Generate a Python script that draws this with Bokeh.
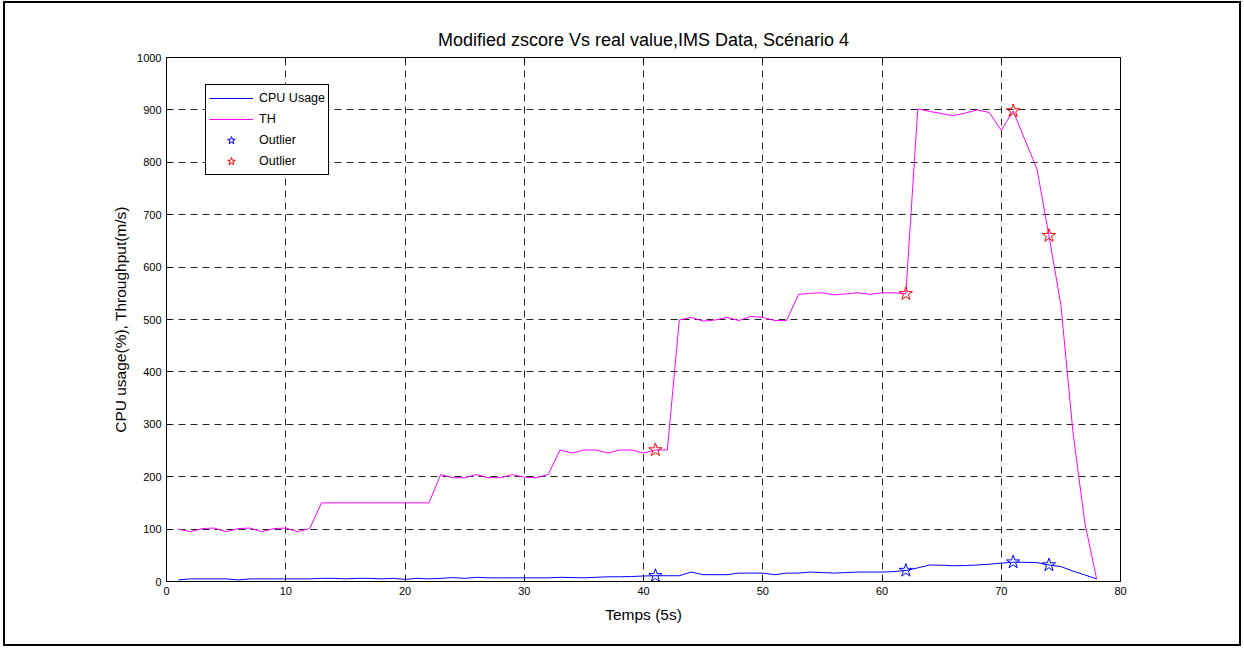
from bokeh.plotting import figure
from bokeh.layouts import column
from bokeh.models import (LinearAxis, FixedTicker, Legend, LegendItem, ColumnDataSource, Range1d)
from bokeh.embed import file_html
from bokeh.resources import INLINE

# ---- data ----
x_vals = list(range(1, 79))
cpu_usage = [3, 5, 5, 5, 5, 3, 5, 5, 5, 5, 5, 5, 6, 6, 5, 6, 6, 5, 6, 4,
             6, 5, 6, 7.5, 6, 8, 7, 7, 7, 7, 7, 7, 8, 7.5, 7, 8, 9, 9, 9.5, 10.5,
             11, 11, 11, 18, 13, 13, 13, 16, 16, 16, 13, 16, 16, 18, 17, 16, 17, 18, 18, 18,
             19, 21, 26, 31.5, 31, 30, 30.5, 31.5, 33, 35, 37, 36.5, 36, 31.5, 28.5, 20, 12.5, 5]
th_values = [100, 95, 101, 102, 95, 101, 102, 95, 101, 102, 95, 101,
             150, 150, 150, 150, 150, 150, 150, 150, 150, 150,
             204, 198, 198, 204, 198, 198, 204, 199, 198, 204,
             251, 245, 251, 251, 245, 251, 251, 245, 251, 251,
             499, 504, 497, 499, 504, 498, 506, 504, 498, 498,
             548, 550, 551, 547, 549, 551, 548, 551, 551, 549,
             902, 897, 893, 889, 894, 900, 895, 861, 898, 842, 787, 660, 528, 288, 113, 5]
outlier_x = [41, 62, 71, 74]
outlier_cpu = [cpu_usage[x_vals.index(v)] for v in outlier_x]
outlier_th = [th_values[x_vals.index(v)] for v in outlier_x]

x_ticks = [0, 10, 20, 30, 40, 50, 60, 70, 80]
y_ticks = [0, 100, 200, 300, 400, 500, 600, 700, 800, 900, 1000]

title_text = "Modified zscore Vs real value,IMS Data, Scénario 4"
x_label = "Temps (5s)"
y_label = "CPU usage(%), Throughput(m/s)"

FONT = "Liberation Sans"

# figure sits inside a bordered wrapper (offset 5px left, 3px top)
p = figure(width=1234, height=641, output_backend="svg", toolbar_location=None,
           x_range=Range1d(0, 80), y_range=Range1d(0, 1000),
           min_border_left=161, min_border_right=119, min_border_top=54, min_border_bottom=63,
           title=title_text)
p.background_fill_color = "white"
p.border_fill_color = "white"
p.outline_line_color = None

p.title.text_font = FONT
p.title.text_font_size = "18px"
p.title.text_font_style = "normal"
p.title.text_color = "black"
p.title.align = "center"
p.title.standoff = 15

for ax in (p.xaxis[0], p.yaxis[0]):
    ax.major_label_text_font = FONT
    ax.major_label_text_font_size = "11px"
    ax.major_label_text_color = "black"
    ax.axis_label_text_font = FONT
    ax.axis_label_text_font_size = "15.5px"
    ax.axis_label_text_font_style = "normal"
    ax.axis_label_text_color = "black"
    ax.major_tick_in = 5
    ax.major_tick_out = 0
    ax.minor_tick_line_color = None
    ax.axis_line_color = "black"
    ax.major_tick_line_color = "black"
    ax.major_label_standoff = 5

p.xaxis[0].axis_label_standoff = 8
p.yaxis[0].axis_label_standoff = 5
p.xaxis[0].ticker = FixedTicker(ticks=x_ticks)
p.yaxis[0].ticker = FixedTicker(ticks=y_ticks)
p.xaxis[0].axis_label = x_label
p.yaxis[0].axis_label = y_label

top_ax = LinearAxis(ticker=FixedTicker(ticks=x_ticks), major_tick_in=5, major_tick_out=0,
                    minor_tick_line_color=None,
                    major_label_overrides={t: "" for t in x_ticks},
                    major_label_standoff=0, axis_line_color="black")
right_ax = LinearAxis(ticker=FixedTicker(ticks=y_ticks), major_tick_in=5, major_tick_out=0,
                      minor_tick_line_color=None,
                      major_label_overrides={t: "" for t in y_ticks},
                      major_label_standoff=0, axis_line_color="black")
p.add_layout(top_ax, "above")
p.add_layout(right_ax, "right")

for g in (p.xgrid[0], p.ygrid[0]):
    g.grid_line_color = "black"
    g.grid_line_alpha = 0.85
    g.grid_line_dash = "7 5"
    g.grid_line_width = 1

src = ColumnDataSource(dict(x=x_vals, cpu=cpu_usage, th=th_values))
osrc = ColumnDataSource(dict(x=outlier_x, cpu=outlier_cpu, th=outlier_th))

r_cpu = p.line("x", "cpu", source=src, line_color="#0000FF", line_width=1)
r_th = p.line("x", "th", source=src, line_color="#FF00FF", line_width=1)
r_ob = p.scatter("x", "cpu", source=osrc, marker="star", size=14,
                 fill_color=None, line_color="#0000FF", line_width=1)
r_or = p.scatter("x", "th", source=osrc, marker="star", size=14,
                 fill_color=None, line_color="#FF0000", line_width=1)

legend = Legend(items=[
    LegendItem(label="CPU Usage", renderers=[r_cpu]),
    LegendItem(label="TH", renderers=[r_th]),
    LegendItem(label="Outlier", renderers=[r_ob]),
    LegendItem(label="Outlier", renderers=[r_or]),
], location=(39, 406))
legend.label_text_font = FONT
legend.label_text_font_size = "12.5px"
legend.label_text_color = "black"
legend.glyph_width = 44
legend.glyph_height = 20
legend.label_height = 20
legend.spacing = 1
legend.padding = 3
legend.margin = 0
legend.label_standoff = 6
legend.border_line_color = "black"
legend.border_line_width = 1
legend.border_line_alpha = 1
legend.background_fill_color = "white"
legend.background_fill_alpha = 1
p.add_layout(legend, "center")

layout = column(p, styles={"border": "2px solid black", "margin-left": "3px",
                           "margin-top": "1px", "background-color": "white"})

open("out.html", "w").write(file_html(layout, INLINE))
